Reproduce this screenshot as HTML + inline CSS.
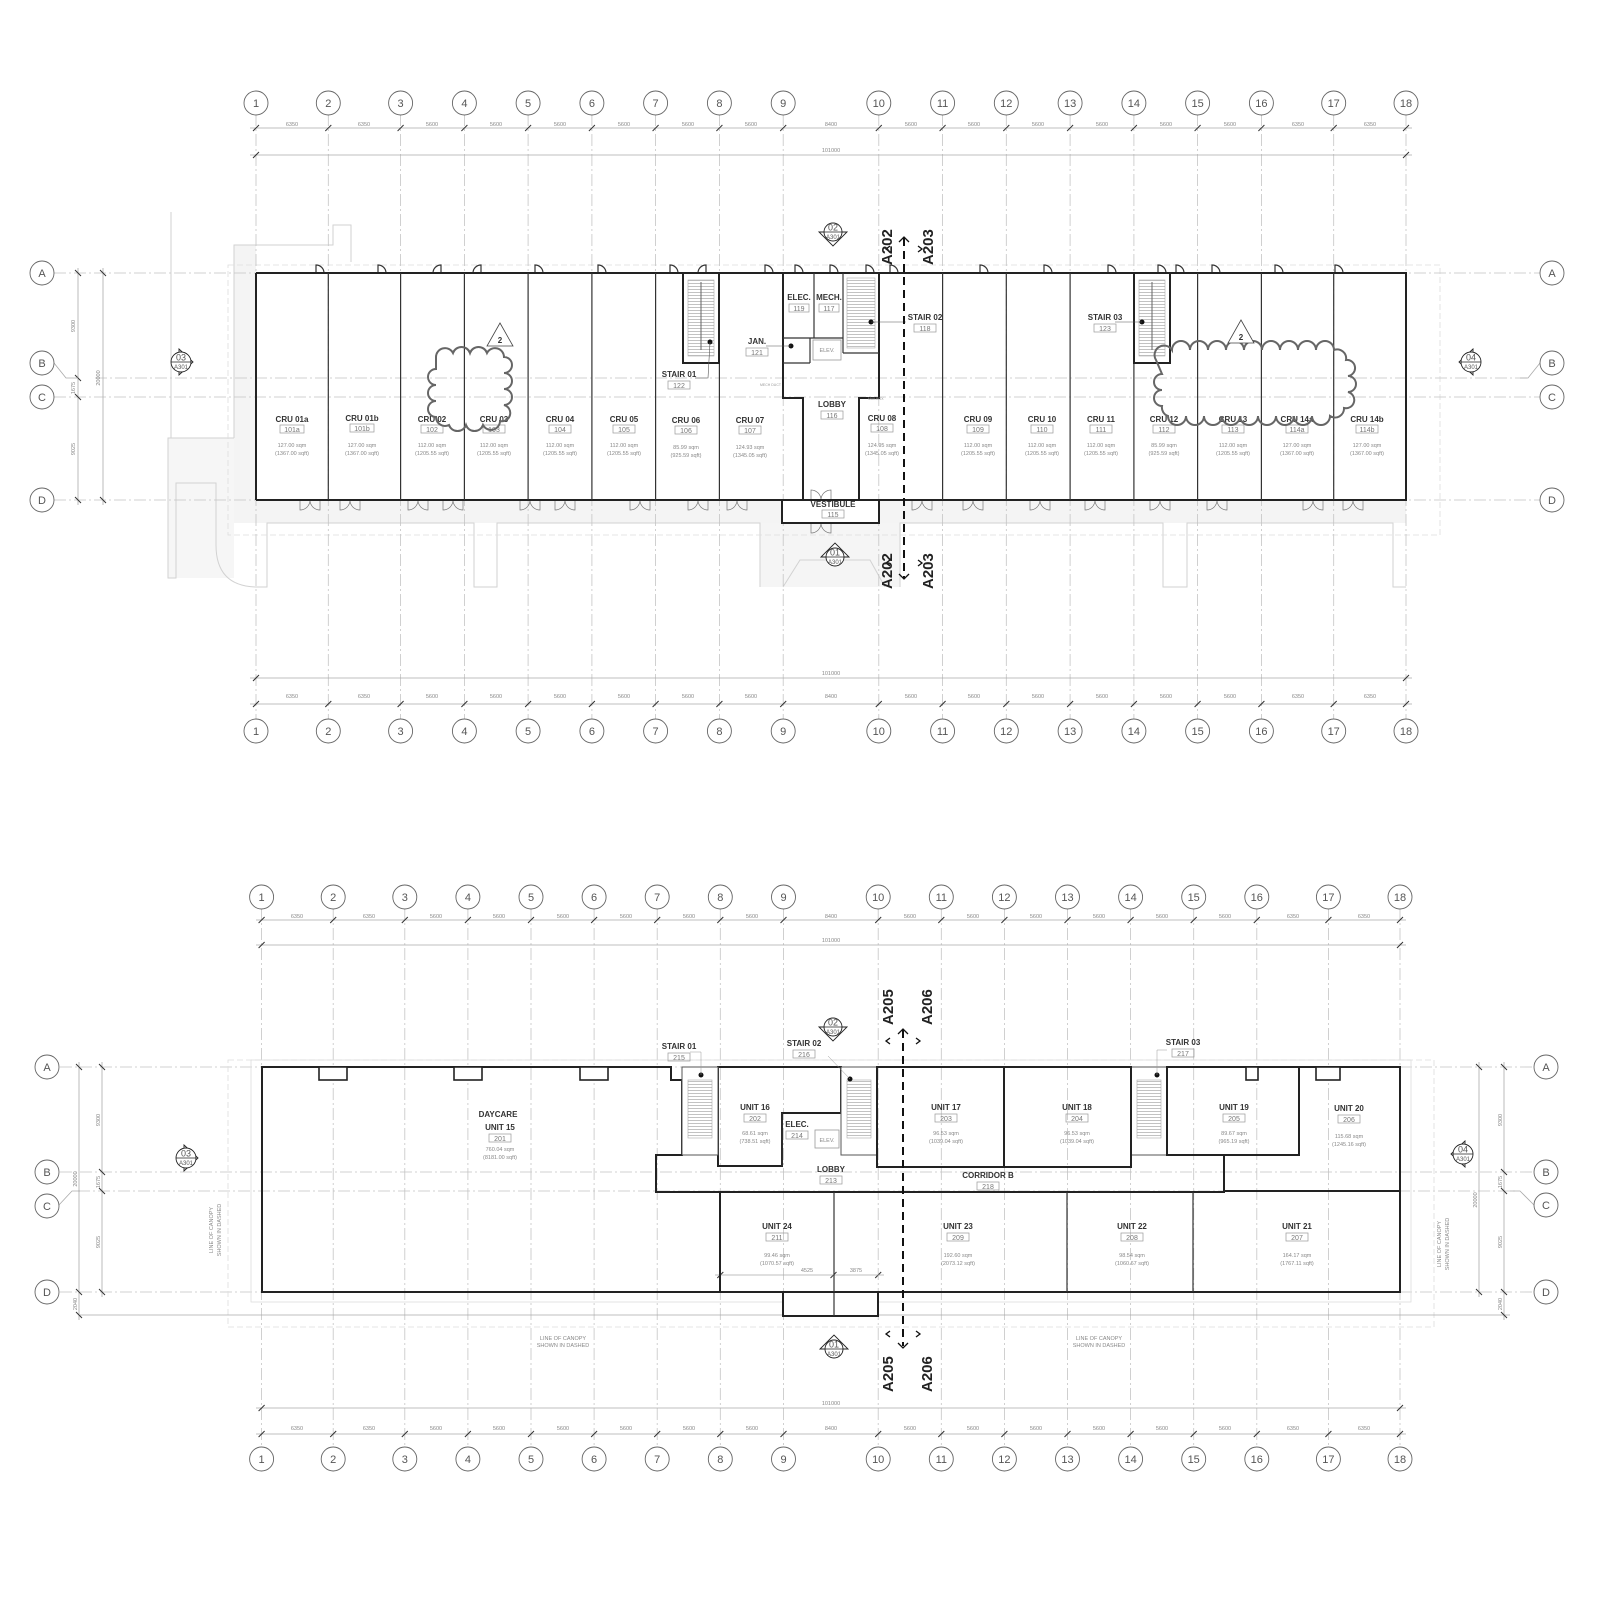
<!DOCTYPE html>
<html><head><meta charset="utf-8"><style>
html,body{margin:0;padding:0;background:#fff}
svg{display:block}
text{font-family:"Liberation Sans",sans-serif}
.g{stroke:#c4c4c4;stroke-width:0.8;stroke-dasharray:12 3 2 3;fill:none}
.bub{fill:#fff;stroke:#666;stroke-width:0.9}
.bt{font-size:11px;fill:#555;text-anchor:middle}
.dl{stroke:#aaa;stroke-width:0.8;fill:none}
.dt{font-size:5.5px;fill:#888;text-anchor:middle}
.tk{stroke:#333;stroke-width:1}
.w{stroke:#222;stroke-width:2;fill:none}
.wt{stroke:#333;stroke-width:1.2;fill:none}
.site{stroke:#d2d2d2;stroke-width:1;fill:none}
.rn{font-size:8px;font-weight:bold;fill:#333;text-anchor:middle}
.rb{font-size:7px;fill:#777;text-anchor:middle}
.ra{font-size:5.5px;fill:#888;text-anchor:middle}
.box{fill:none;stroke:#999;stroke-width:0.7}
.sec{font-size:15px;font-weight:bold;fill:#222}
.cl{fill:none;stroke:#666;stroke-width:2}
</style></head><body>
<svg width="1600" height="1600" viewBox="0 0 1600 1600" xmlns="http://www.w3.org/2000/svg">
<defs>
<pattern id="st" width="6" height="3" patternUnits="userSpaceOnUse"><rect width="6" height="3" fill="#fff"/><line x1="0" y1="1.5" x2="6" y2="1.5" stroke="#999" stroke-width="0.6"/></pattern>
</defs>

<!-- ================= TOP PLAN ================= -->
<!-- site / hatch -->
<g>
<rect x="256" y="500" width="527" height="23" fill="#f4f4f4"/>
<rect x="879" y="500" width="527" height="23" fill="#f4f4f4"/>
<path d="M234,245 L256,245 L256,523 L234,523 Z" fill="#f4f4f4"/>
<path d="M168,438 L234,438 L234,578 L168,578 Z" fill="#f6f6f6"/>
<path d="M760,523 L900,523 L900,587 L760,587 Z" fill="#f5f5f5"/>
<line x1="171" y1="212" x2="171" y2="438" class="site"/>
<polyline points="234,438 234,245 333,245 333,225 351,225 351,262" class="site"/>
<polyline points="234,438 168,438 168,578 176,578 176,483 216,483 216,545" class="site"/>
<path d="M216,545 Q216,587 258,587 L267,587 L267,523 L474,523 L474,587 L497,587 L497,523 L760,523 L760,587" class="site"/>
<path d="M900,587 L900,523 L1163,523 L1163,587 L1187,587 L1187,523 L1393,523 L1393,587 L1406,587" class="site"/>
<path d="M783,587 L800,560 L870,560 L885,587" class="site"/>
<rect x="228" y="265" width="1212" height="270" fill="none" stroke="#ddd" stroke-width="0.8" stroke-dasharray="6 3"/>
</g>

<!-- grid verticals -->
<g class="g">
<line x1="256" y1="114" x2="256" y2="720"/><line x1="328.3" y1="114" x2="328.3" y2="720"/><line x1="400.6" y1="114" x2="400.6" y2="720"/><line x1="464.4" y1="114" x2="464.4" y2="720"/><line x1="528.1" y1="114" x2="528.1" y2="720"/><line x1="591.9" y1="114" x2="591.9" y2="720"/><line x1="655.6" y1="114" x2="655.6" y2="720"/><line x1="719.4" y1="114" x2="719.4" y2="720"/><line x1="783.2" y1="114" x2="783.2" y2="720"/><line x1="878.8" y1="114" x2="878.8" y2="720"/><line x1="942.6" y1="114" x2="942.6" y2="720"/><line x1="1006.3" y1="114" x2="1006.3" y2="720"/><line x1="1070.1" y1="114" x2="1070.1" y2="720"/><line x1="1133.9" y1="114" x2="1133.9" y2="720"/><line x1="1197.6" y1="114" x2="1197.6" y2="720"/><line x1="1261.4" y1="114" x2="1261.4" y2="720"/><line x1="1333.7" y1="114" x2="1333.7" y2="720"/><line x1="1406" y1="114" x2="1406" y2="720"/>
<line x1="54" y1="273" x2="1540" y2="273"/><line x1="95" y1="378" x2="1530" y2="378"/><line x1="54" y1="397" x2="1540" y2="397"/><line x1="54" y1="500" x2="1540" y2="500"/>
</g>

<!-- dimensions top -->
<g>
<line x1="250" y1="128" x2="1412" y2="128" class="dl"/>
<line x1="250" y1="155" x2="1412" y2="155" class="dl"/>
<line x1="250" y1="678" x2="1412" y2="678" class="dl"/>
<line x1="250" y1="704" x2="1412" y2="704" class="dl"/>
<g class="tk">
<line x1="253" y1="131" x2="259" y2="125"/><line x1="325.3" y1="131" x2="331.3" y2="125"/><line x1="397.6" y1="131" x2="403.6" y2="125"/><line x1="461.4" y1="131" x2="467.4" y2="125"/><line x1="525.1" y1="131" x2="531.1" y2="125"/><line x1="588.9" y1="131" x2="594.9" y2="125"/><line x1="652.6" y1="131" x2="658.6" y2="125"/><line x1="716.4" y1="131" x2="722.4" y2="125"/><line x1="780.2" y1="131" x2="786.2" y2="125"/><line x1="875.8" y1="131" x2="881.8" y2="125"/><line x1="939.6" y1="131" x2="945.6" y2="125"/><line x1="1003.3" y1="131" x2="1009.3" y2="125"/><line x1="1067.1" y1="131" x2="1073.1" y2="125"/><line x1="1130.9" y1="131" x2="1136.9" y2="125"/><line x1="1194.6" y1="131" x2="1200.6" y2="125"/><line x1="1258.4" y1="131" x2="1264.4" y2="125"/><line x1="1330.7" y1="131" x2="1336.7" y2="125"/><line x1="1403" y1="131" x2="1409" y2="125"/>
<line x1="253" y1="158" x2="259" y2="152"/><line x1="1403" y1="158" x2="1409" y2="152"/>
<line x1="253" y1="681" x2="259" y2="675"/><line x1="1403" y1="681" x2="1409" y2="675"/>
<line x1="253" y1="707" x2="259" y2="701"/><line x1="325.3" y1="707" x2="331.3" y2="701"/><line x1="397.6" y1="707" x2="403.6" y2="701"/><line x1="461.4" y1="707" x2="467.4" y2="701"/><line x1="525.1" y1="707" x2="531.1" y2="701"/><line x1="588.9" y1="707" x2="594.9" y2="701"/><line x1="652.6" y1="707" x2="658.6" y2="701"/><line x1="716.4" y1="707" x2="722.4" y2="701"/><line x1="780.2" y1="707" x2="786.2" y2="701"/><line x1="875.8" y1="707" x2="881.8" y2="701"/><line x1="939.6" y1="707" x2="945.6" y2="701"/><line x1="1003.3" y1="707" x2="1009.3" y2="701"/><line x1="1067.1" y1="707" x2="1073.1" y2="701"/><line x1="1130.9" y1="707" x2="1136.9" y2="701"/><line x1="1194.6" y1="707" x2="1200.6" y2="701"/><line x1="1258.4" y1="707" x2="1264.4" y2="701"/><line x1="1330.7" y1="707" x2="1336.7" y2="701"/><line x1="1403" y1="707" x2="1409" y2="701"/>
</g>
<g class="dt">
<text x="292" y="126">6350</text><text x="364" y="126">6350</text><text x="432" y="126">5600</text><text x="496" y="126">5600</text><text x="560" y="126">5600</text><text x="624" y="126">5600</text><text x="688" y="126">5600</text><text x="751" y="126">5600</text><text x="831" y="126">8400</text><text x="911" y="126">5600</text><text x="974" y="126">5600</text><text x="1038" y="126">5600</text><text x="1102" y="126">5600</text><text x="1166" y="126">5600</text><text x="1230" y="126">5600</text><text x="1298" y="126">6350</text><text x="1370" y="126">6350</text>
<text x="831" y="152">101000</text><text x="831" y="675">101000</text>
<text x="292" y="698">6350</text><text x="364" y="698">6350</text><text x="432" y="698">5600</text><text x="496" y="698">5600</text><text x="560" y="698">5600</text><text x="624" y="698">5600</text><text x="688" y="698">5600</text><text x="751" y="698">5600</text><text x="831" y="698">8400</text><text x="911" y="698">5600</text><text x="974" y="698">5600</text><text x="1038" y="698">5600</text><text x="1102" y="698">5600</text><text x="1166" y="698">5600</text><text x="1230" y="698">5600</text><text x="1298" y="698">6350</text><text x="1370" y="698">6350</text>
</g>
<!-- left vertical dims -->
<line x1="78" y1="268" x2="78" y2="505" class="dl"/><line x1="103" y1="268" x2="103" y2="505" class="dl"/>
<g class="tk"><line x1="75" y1="270" x2="81" y2="276"/><line x1="75" y1="375" x2="81" y2="381"/><line x1="75" y1="394" x2="81" y2="400"/><line x1="75" y1="497" x2="81" y2="503"/><line x1="100" y1="270" x2="106" y2="276"/><line x1="100" y1="497" x2="106" y2="503"/></g>
<g class="dt"><text transform="translate(75,326) rotate(-90)">9300</text><text transform="translate(75,388) rotate(-90)">1675</text><text transform="translate(75,449) rotate(-90)">9025</text><text transform="translate(100,378) rotate(-90)">20000</text></g>
<polyline points="54,363 66,378 78,378" class="dl"/>
<polyline points="1540,363 1528,378 1520,378" class="dl"/>
</g>

<!-- bubbles top -->
<g>
<circle cx="256" cy="103" r="12" class="bub"/><circle cx="328.3" cy="103" r="12" class="bub"/><circle cx="400.6" cy="103" r="12" class="bub"/><circle cx="464.4" cy="103" r="12" class="bub"/><circle cx="528.1" cy="103" r="12" class="bub"/><circle cx="591.9" cy="103" r="12" class="bub"/><circle cx="655.6" cy="103" r="12" class="bub"/><circle cx="719.4" cy="103" r="12" class="bub"/><circle cx="783.2" cy="103" r="12" class="bub"/><circle cx="878.8" cy="103" r="12" class="bub"/><circle cx="942.6" cy="103" r="12" class="bub"/><circle cx="1006.3" cy="103" r="12" class="bub"/><circle cx="1070.1" cy="103" r="12" class="bub"/><circle cx="1133.9" cy="103" r="12" class="bub"/><circle cx="1197.6" cy="103" r="12" class="bub"/><circle cx="1261.4" cy="103" r="12" class="bub"/><circle cx="1333.7" cy="103" r="12" class="bub"/><circle cx="1406" cy="103" r="12" class="bub"/>
<circle cx="256" cy="731" r="12" class="bub"/><circle cx="328.3" cy="731" r="12" class="bub"/><circle cx="400.6" cy="731" r="12" class="bub"/><circle cx="464.4" cy="731" r="12" class="bub"/><circle cx="528.1" cy="731" r="12" class="bub"/><circle cx="591.9" cy="731" r="12" class="bub"/><circle cx="655.6" cy="731" r="12" class="bub"/><circle cx="719.4" cy="731" r="12" class="bub"/><circle cx="783.2" cy="731" r="12" class="bub"/><circle cx="878.8" cy="731" r="12" class="bub"/><circle cx="942.6" cy="731" r="12" class="bub"/><circle cx="1006.3" cy="731" r="12" class="bub"/><circle cx="1070.1" cy="731" r="12" class="bub"/><circle cx="1133.9" cy="731" r="12" class="bub"/><circle cx="1197.6" cy="731" r="12" class="bub"/><circle cx="1261.4" cy="731" r="12" class="bub"/><circle cx="1333.7" cy="731" r="12" class="bub"/><circle cx="1406" cy="731" r="12" class="bub"/>
<circle cx="42" cy="273" r="12" class="bub"/><circle cx="42" cy="363" r="12" class="bub"/><circle cx="42" cy="397" r="12" class="bub"/><circle cx="42" cy="500" r="12" class="bub"/>
<circle cx="1552" cy="273" r="12" class="bub"/><circle cx="1552" cy="363" r="12" class="bub"/><circle cx="1552" cy="397" r="12" class="bub"/><circle cx="1552" cy="500" r="12" class="bub"/>
</g>
<g class="bt">
<text x="256" y="107">1</text><text x="328.3" y="107">2</text><text x="400.6" y="107">3</text><text x="464.4" y="107">4</text><text x="528.1" y="107">5</text><text x="591.9" y="107">6</text><text x="655.6" y="107">7</text><text x="719.4" y="107">8</text><text x="783.2" y="107">9</text><text x="878.8" y="107">10</text><text x="942.6" y="107">11</text><text x="1006.3" y="107">12</text><text x="1070.1" y="107">13</text><text x="1133.9" y="107">14</text><text x="1197.6" y="107">15</text><text x="1261.4" y="107">16</text><text x="1333.7" y="107">17</text><text x="1406" y="107">18</text>
<text x="256" y="735">1</text><text x="328.3" y="735">2</text><text x="400.6" y="735">3</text><text x="464.4" y="735">4</text><text x="528.1" y="735">5</text><text x="591.9" y="735">6</text><text x="655.6" y="735">7</text><text x="719.4" y="735">8</text><text x="783.2" y="735">9</text><text x="878.8" y="735">10</text><text x="942.6" y="735">11</text><text x="1006.3" y="735">12</text><text x="1070.1" y="735">13</text><text x="1133.9" y="735">14</text><text x="1197.6" y="735">15</text><text x="1261.4" y="735">16</text><text x="1333.7" y="735">17</text><text x="1406" y="735">18</text>
<text x="42" y="277">A</text><text x="42" y="367">B</text><text x="42" y="401">C</text><text x="42" y="504">D</text>
<text x="1552" y="277">A</text><text x="1552" y="367">B</text><text x="1552" y="401">C</text><text x="1552" y="504">D</text>
</g>

<!-- building top -->
<g>
<!-- top doors -->
<g class="wt" stroke-width="0.8">
<path d="M316,273 v-8 a8,8 0 0,1 8,8"/><path d="M378,273 v-8 a8,8 0 0,1 8,8"/><path d="M441,273 v-8 a8,8 0 0,0 -8,8"/><path d="M481,273 v-8 a8,8 0 0,0 -8,8"/><path d="M535,273 v-8 a8,8 0 0,1 8,8"/><path d="M598,273 v-8 a8,8 0 0,1 8,8"/><path d="M670,273 v-8 a8,8 0 0,1 8,8"/><path d="M706,273 v-8 a8,8 0 0,0 -8,8"/><path d="M765,273 v-8 a8,8 0 0,1 8,8"/><path d="M795,273 v-8 a8,8 0 0,1 8,8"/><path d="M830,273 v-8 a8,8 0 0,1 8,8"/><path d="M866,273 v-8 a8,8 0 0,1 8,8"/><path d="M890,273 v-8 a8,8 0 0,1 8,8"/><path d="M980,273 v-8 a8,8 0 0,1 8,8"/><path d="M1044,273 v-8 a8,8 0 0,1 8,8"/><path d="M1108,273 v-8 a8,8 0 0,1 8,8"/><path d="M1158,273 v-8 a8,8 0 0,1 8,8"/><path d="M1176,273 v-8 a8,8 0 0,1 8,8"/><path d="M1212,273 v-8 a8,8 0 0,1 8,8"/><path d="M1275,273 v-8 a8,8 0 0,1 8,8"/><path d="M1335,273 v-8 a8,8 0 0,1 8,8"/>
</g>
<!-- bottom double doors -->
<g stroke="#777" stroke-width="0.7" fill="none">
<path d="M300,500 v10 a10,10 0 0,0 10,-10 M320,500 v10 a10,10 0 0,1 -10,-10"/><path d="M340,500 v10 a10,10 0 0,0 10,-10 M360,500 v10 a10,10 0 0,1 -10,-10"/><path d="M408,500 v10 a10,10 0 0,0 10,-10 M428,500 v10 a10,10 0 0,1 -10,-10"/><path d="M443,500 v10 a10,10 0 0,0 10,-10 M463,500 v10 a10,10 0 0,1 -10,-10"/><path d="M520,500 v10 a10,10 0 0,0 10,-10 M540,500 v10 a10,10 0 0,1 -10,-10"/><path d="M555,500 v10 a10,10 0 0,0 10,-10 M575,500 v10 a10,10 0 0,1 -10,-10"/><path d="M630,500 v10 a10,10 0 0,0 10,-10 M650,500 v10 a10,10 0 0,1 -10,-10"/><path d="M688,500 v10 a10,10 0 0,0 10,-10 M708,500 v10 a10,10 0 0,1 -10,-10"/><path d="M727,500 v10 a10,10 0 0,0 10,-10 M747,500 v10 a10,10 0 0,1 -10,-10"/><path d="M912,500 v10 a10,10 0 0,0 10,-10 M932,500 v10 a10,10 0 0,1 -10,-10"/><path d="M963,500 v10 a10,10 0 0,0 10,-10 M983,500 v10 a10,10 0 0,1 -10,-10"/><path d="M1030,500 v10 a10,10 0 0,0 10,-10 M1050,500 v10 a10,10 0 0,1 -10,-10"/><path d="M1085,500 v10 a10,10 0 0,0 10,-10 M1105,500 v10 a10,10 0 0,1 -10,-10"/><path d="M1150,500 v10 a10,10 0 0,0 10,-10 M1170,500 v10 a10,10 0 0,1 -10,-10"/><path d="M1207,500 v10 a10,10 0 0,0 10,-10 M1227,500 v10 a10,10 0 0,1 -10,-10"/><path d="M1303,500 v10 a10,10 0 0,0 10,-10 M1323,500 v10 a10,10 0 0,1 -10,-10"/><path d="M1343,500 v10 a10,10 0 0,0 10,-10 M1363,500 v10 a10,10 0 0,1 -10,-10"/>
<path d="M811,523 v10 a10,10 0 0,0 10,-10 M831,523 v10 a10,10 0 0,1 -10,-10"/><path d="M811,500 v-10 a10,10 0 0,1 10,10 M831,500 v-10 a10,10 0 0,0 -10,10"/>
</g>
<!-- outline -->
<path d="M256,273 H1406 V500 H879 M783,500 H256 Z" class="w"/>
<line x1="256" y1="273" x2="256" y2="500" class="w"/>
<g class="wt" stroke-width="1.4">
<line x1="328.3" y1="273" x2="328.3" y2="500"/><line x1="400.6" y1="273" x2="400.6" y2="500"/><line x1="464.4" y1="273" x2="464.4" y2="500"/><line x1="528.1" y1="273" x2="528.1" y2="500"/><line x1="591.9" y1="273" x2="591.9" y2="500"/><line x1="655.6" y1="273" x2="655.6" y2="500"/><line x1="719.4" y1="273" x2="719.4" y2="500"/>
<line x1="942.6" y1="273" x2="942.6" y2="500"/><line x1="1006.3" y1="273" x2="1006.3" y2="500"/><line x1="1070.1" y1="273" x2="1070.1" y2="500"/><line x1="1133.9" y1="273" x2="1133.9" y2="500"/><line x1="1197.6" y1="273" x2="1197.6" y2="500"/><line x1="1261.4" y1="273" x2="1261.4" y2="500"/><line x1="1333.7" y1="273" x2="1333.7" y2="500"/>
</g>
<!-- stairs 01 / 03 -->
<rect x="683" y="273" width="36" height="90" fill="#fff" stroke="#222" stroke-width="2"/>
<rect x="688" y="280" width="26" height="76" fill="url(#st)" stroke="#aaa" stroke-width="0.6"/>
<line x1="701" y1="282" x2="701" y2="350" stroke="#666"/>
<rect x="1134" y="273" width="36" height="90" fill="#fff" stroke="#222" stroke-width="2"/>
<rect x="1139" y="280" width="26" height="76" fill="url(#st)" stroke="#aaa" stroke-width="0.6"/>
<line x1="1152" y1="282" x2="1152" y2="350" stroke="#666"/>
<!-- core -->
<path d="M783,273 V398 H803 V500 M879,273 V398 H859 V500" class="w"/>
<rect x="782" y="500" width="97" height="23" fill="#fff" stroke="#222" stroke-width="2"/>
<g class="wt">
<line x1="814" y1="273" x2="814" y2="338"/><line x1="843" y1="273" x2="843" y2="353"/><line x1="783" y1="338" x2="843" y2="338"/>
<line x1="810" y1="338" x2="810" y2="363"/><line x1="783" y1="363" x2="810" y2="363"/><line x1="843" y1="353" x2="879" y2="353"/>
</g>
<rect x="847" y="278" width="28" height="70" fill="url(#st)" stroke="#aaa" stroke-width="0.6"/>
<rect x="813" y="340" width="28" height="20" fill="#fff" stroke="#999" stroke-width="0.8"/>
<text x="827" y="352" font-size="5.5" fill="#888" text-anchor="middle">ELEV.</text>
<circle cx="710" cy="342" r="2.5" fill="#111"/><polyline points="710,342 708,378 695,378" fill="none" stroke="#555" stroke-width="0.6"/>
<circle cx="791" cy="346" r="2.5" fill="#111"/><line x1="766" y1="346" x2="791" y2="346" stroke="#555" stroke-width="0.6"/>
<circle cx="871" cy="322" r="2.5" fill="#111"/><line x1="871" y1="322" x2="906" y2="322" stroke="#555" stroke-width="0.6"/>
<circle cx="1142" cy="322" r="2.5" fill="#111"/><line x1="1115" y1="322" x2="1142" y2="322" stroke="#555" stroke-width="0.6"/>
<text x="760" y="386" font-size="3.5" fill="#999">MECH DUCT</text>
<text x="868" y="400" font-size="3.5" fill="#999">MAILBOX</text>
</g>

<!-- room labels top -->
<g>
<text class="rn" x="292" y="422">CRU 01a</text><rect class="box" x="280" y="425" width="24" height="8"/><text class="rb" x="292" y="432">101a</text><text class="ra" x="292" y="447">127.00 sqm</text><text class="ra" x="292" y="455">(1367.00 sqft)</text>
<text class="rn" x="362" y="421">CRU 01b</text><rect class="box" x="350" y="424" width="24" height="8"/><text class="rb" x="362" y="431">101b</text><text class="ra" x="362" y="447">127.00 sqm</text><text class="ra" x="362" y="455">(1367.00 sqft)</text>
<text class="rn" x="432" y="422">CRU 02</text><rect class="box" x="421" y="425" width="22" height="8"/><text class="rb" x="432" y="432">102</text><text class="ra" x="432" y="447">112.00 sqm</text><text class="ra" x="432" y="455">(1205.55 sqft)</text>
<text class="rn" x="494" y="422">CRU 03</text><rect class="box" x="483" y="425" width="22" height="8"/><text class="rb" x="494" y="432">103</text><text class="ra" x="494" y="447">112.00 sqm</text><text class="ra" x="494" y="455">(1205.55 sqft)</text>
<text class="rn" x="560" y="422">CRU 04</text><rect class="box" x="549" y="425" width="22" height="8"/><text class="rb" x="560" y="432">104</text><text class="ra" x="560" y="447">112.00 sqm</text><text class="ra" x="560" y="455">(1205.55 sqft)</text>
<text class="rn" x="624" y="422">CRU 05</text><rect class="box" x="613" y="425" width="22" height="8"/><text class="rb" x="624" y="432">105</text><text class="ra" x="624" y="447">112.00 sqm</text><text class="ra" x="624" y="455">(1205.55 sqft)</text>
<text class="rn" x="686" y="423">CRU 06</text><rect class="box" x="675" y="426" width="22" height="8"/><text class="rb" x="686" y="433">106</text><text class="ra" x="686" y="449">85.99 sqm</text><text class="ra" x="686" y="457">(925.59 sqft)</text>
<text class="rn" x="750" y="423">CRU 07</text><rect class="box" x="739" y="426" width="22" height="8"/><text class="rb" x="750" y="433">107</text><text class="ra" x="750" y="449">124.93 sqm</text><text class="ra" x="750" y="457">(1345.05 sqft)</text>
<text class="rn" x="882" y="421">CRU 08</text><rect class="box" x="871" y="424" width="22" height="8"/><text class="rb" x="882" y="431">108</text><text class="ra" x="882" y="447">124.95 sqm</text><text class="ra" x="882" y="455">(1345.05 sqft)</text>
<text class="rn" x="978" y="422">CRU 09</text><rect class="box" x="967" y="425" width="22" height="8"/><text class="rb" x="978" y="432">109</text><text class="ra" x="978" y="447">112.00 sqm</text><text class="ra" x="978" y="455">(1205.55 sqft)</text>
<text class="rn" x="1042" y="422">CRU 10</text><rect class="box" x="1031" y="425" width="22" height="8"/><text class="rb" x="1042" y="432">110</text><text class="ra" x="1042" y="447">112.00 sqm</text><text class="ra" x="1042" y="455">(1205.55 sqft)</text>
<text class="rn" x="1101" y="422">CRU 11</text><rect class="box" x="1090" y="425" width="22" height="8"/><text class="rb" x="1101" y="432">111</text><text class="ra" x="1101" y="447">112.00 sqm</text><text class="ra" x="1101" y="455">(1205.55 sqft)</text>
<text class="rn" x="1164" y="422">CRU 12</text><rect class="box" x="1153" y="425" width="22" height="8"/><text class="rb" x="1164" y="432">112</text><text class="ra" x="1164" y="447">85.99 sqm</text><text class="ra" x="1164" y="455">(925.59 sqft)</text>
<text class="rn" x="1233" y="422">CRU 13</text><rect class="box" x="1222" y="425" width="22" height="8"/><text class="rb" x="1233" y="432">113</text><text class="ra" x="1233" y="447">112.00 sqm</text><text class="ra" x="1233" y="455">(1205.55 sqft)</text>
<text class="rn" x="1297" y="422">CRU 14a</text><rect class="box" x="1286" y="425" width="22" height="8"/><text class="rb" x="1297" y="432">114a</text><text class="ra" x="1297" y="447">127.00 sqm</text><text class="ra" x="1297" y="455">(1367.00 sqft)</text>
<text class="rn" x="1367" y="422">CRU 14b</text><rect class="box" x="1356" y="425" width="22" height="8"/><text class="rb" x="1367" y="432">114b</text><text class="ra" x="1367" y="447">127.00 sqm</text><text class="ra" x="1367" y="455">(1367.00 sqft)</text>
<text class="rn" x="679" y="377">STAIR 01</text><rect class="box" x="668" y="381" width="22" height="8"/><text class="rb" x="679" y="388">122</text>
<text class="rn" x="757" y="344">JAN.</text><rect class="box" x="746" y="348" width="22" height="8"/><text class="rb" x="757" y="355">121</text>
<text class="rn" x="799" y="300">ELEC.</text><rect class="box" x="789" y="304" width="20" height="8"/><text class="rb" x="799" y="311">119</text>
<text class="rn" x="829" y="300">MECH.</text><rect class="box" x="819" y="304" width="20" height="8"/><text class="rb" x="829" y="311">117</text>
<text class="rn" x="925" y="320">STAIR 02</text><rect class="box" x="914" y="324" width="22" height="8"/><text class="rb" x="925" y="331">118</text>
<text class="rn" x="1105" y="320">STAIR 03</text><rect class="box" x="1094" y="324" width="22" height="8"/><text class="rb" x="1105" y="331">123</text>
<text class="rn" x="832" y="407">LOBBY</text><rect class="box" x="821" y="411" width="22" height="8"/><text class="rb" x="832" y="418">116</text>
<text class="rn" x="833" y="507">VESTIBULE</text><rect class="box" x="822" y="510" width="22" height="8"/><text class="rb" x="833" y="517">115</text>
</g>

<!-- clouds top -->
<path class="cl" d="M436,357 a9,9 0 0,1 17,-4 a9,9 0 0,1 17,0 a9,9 0 0,1 17,0 a9,9 0 0,1 17,4 a8,8 0 0,1 0,16 a8,8 0 0,1 0,16 a8,8 0 0,1 0,16 a8,8 0 0,1 -4,16 a9,9 0 0,1 -17,4 a9,9 0 0,1 -17,0 a9,9 0 0,1 -17,0 a9,9 0 0,1 -13,-8 a8,8 0 0,1 0,-16 a8,8 0 0,1 0,-16 a8,8 0 0,1 0,-16 Z"/>
<path class="cl" d="M1156,360 a9,9 0 0,1 16,-10 a9,9 0 0,1 18,0 a9,9 0 0,1 18,0 a9,9 0 0,1 18,0 a9,9 0 0,1 18,0 a9,9 0 0,1 18,0 a9,9 0 0,1 18,0 a9,9 0 0,1 18,0 a9,9 0 0,1 18,0 a9,9 0 0,1 18,0 a9,9 0 0,1 12,10 a8,8 0 0,1 2,16 a8,8 0 0,1 0,16 a8,8 0 0,1 -4,16 a9,9 0 0,1 -14,8 a9,9 0 0,1 -18,0 a9,9 0 0,1 -18,0 a9,9 0 0,1 -18,0 a9,9 0 0,1 -18,0 a9,9 0 0,1 -18,0 a9,9 0 0,1 -18,0 a9,9 0 0,1 -18,0 a9,9 0 0,1 -18,0 a9,9 0 0,1 -18,0 a9,9 0 0,1 -6,-10 a8,8 0 0,1 0,-16 a8,8 0 0,1 0,-16 Z"/>
<polygon points="500,323 487,346 513,346" fill="#fff" stroke="#444" stroke-width="0.8"/><text x="500" y="343" font-size="8" font-weight="bold" text-anchor="middle" fill="#333">2</text>
<polygon points="1241,320 1228,343 1254,343" fill="#fff" stroke="#444" stroke-width="0.8"/><text x="1241" y="340" font-size="8" font-weight="bold" text-anchor="middle" fill="#333">2</text>

<!-- section markers top -->
<g font-size="8" text-anchor="middle" fill="#555">
<g transform="translate(181,362)"><polygon points="-2,-13 12,0 -2,13" fill="#fff" stroke="#222" stroke-width="0.9"/><circle r="10" fill="#fff" stroke="#222" stroke-width="0.9"/><line x1="-10" y1="0" x2="10" y2="0" stroke="#222" stroke-width="0.7"/><text y="-1.5" font-size="9">03</text><text y="7" font-size="6">A301</text></g>
<g transform="translate(1471,362)"><polygon points="2,-13 -12,0 2,13" fill="#fff" stroke="#222" stroke-width="0.9"/><circle r="10" fill="#fff" stroke="#222" stroke-width="0.9"/><line x1="-10" y1="0" x2="10" y2="0" stroke="#222" stroke-width="0.7"/><text y="-1.5" font-size="9">04</text><text y="7" font-size="6">A301</text></g>
<g transform="translate(833,232)"><polygon points="-14,0 14,0 0,14" fill="#fff" stroke="#222" stroke-width="0.9"/><circle r="9" fill="#fff" stroke="#222" stroke-width="0.9"/><line x1="-14" y1="0" x2="14" y2="0" stroke="#222" stroke-width="0.7"/><text y="-1.5" font-size="9">02</text><text y="7" font-size="6">A301</text></g>
<g transform="translate(835,557)"><polygon points="-14,0 14,0 0,-14" fill="#fff" stroke="#222" stroke-width="0.9"/><circle r="9" fill="#fff" stroke="#222" stroke-width="0.9"/><line x1="-14" y1="0" x2="14" y2="0" stroke="#222" stroke-width="0.7"/><text y="-1.5" font-size="9">01</text><text y="7" font-size="6">A301</text></g>
</g>
<!-- section cut top -->
<line x1="904" y1="238" x2="904" y2="578" stroke="#111" stroke-width="2" stroke-dasharray="8 5"/>
<path d="M899,242 l5,-5 l5,5 M899,574 l5,5 l5,-5 M890,252 l-4,-3 l4,-3 M918,252 l4,-3 l-4,-3 M890,566 l-4,-3 l4,-3 M918,566 l4,-3 l-4,-3" fill="none" stroke="#111" stroke-width="1.3"/>
<text class="sec" transform="translate(892,265) rotate(-90)">A202</text>
<text class="sec" transform="translate(933,265) rotate(-90)">A203</text>
<text class="sec" transform="translate(892,589) rotate(-90)">A202</text>
<text class="sec" transform="translate(933,589) rotate(-90)">A203</text>

<!-- ================= BOTTOM PLAN ================= -->
<g class="g">
<line x1="261.6" y1="908" x2="261.6" y2="1447"/><line x1="333.2" y1="908" x2="333.2" y2="1447"/><line x1="404.8" y1="908" x2="404.8" y2="1447"/><line x1="467.9" y1="908" x2="467.9" y2="1447"/><line x1="531" y1="908" x2="531" y2="1447"/><line x1="594.1" y1="908" x2="594.1" y2="1447"/><line x1="657.2" y1="908" x2="657.2" y2="1447"/><line x1="720.3" y1="908" x2="720.3" y2="1447"/><line x1="783.5" y1="908" x2="783.5" y2="1447"/><line x1="878.2" y1="908" x2="878.2" y2="1447"/><line x1="941.3" y1="908" x2="941.3" y2="1447"/><line x1="1004.4" y1="908" x2="1004.4" y2="1447"/><line x1="1067.5" y1="908" x2="1067.5" y2="1447"/><line x1="1130.6" y1="908" x2="1130.6" y2="1447"/><line x1="1193.7" y1="908" x2="1193.7" y2="1447"/><line x1="1256.8" y1="908" x2="1256.8" y2="1447"/><line x1="1328.4" y1="908" x2="1328.4" y2="1447"/><line x1="1400" y1="908" x2="1400" y2="1447"/>
<line x1="60" y1="1067" x2="1534" y2="1067"/><line x1="60" y1="1172" x2="1534" y2="1172"/><line x1="78" y1="1191" x2="1515" y2="1191"/><line x1="60" y1="1292" x2="1534" y2="1292"/>
</g>
<rect x="228" y="1060" width="1206" height="267" fill="none" stroke="#ddd" stroke-width="0.8" stroke-dasharray="6 3"/>
<line x1="80" y1="1315" x2="1510" y2="1315" class="dl" stroke="#ddd"/>
<rect x="251" y="1060" width="1160" height="242" fill="none" stroke="#ddd" stroke-width="0.8"/>

<!-- dims bottom plan -->
<g>
<line x1="256" y1="920" x2="1406" y2="920" class="dl"/><line x1="256" y1="945" x2="1406" y2="945" class="dl"/>
<line x1="256" y1="1408" x2="1406" y2="1408" class="dl"/><line x1="256" y1="1434" x2="1406" y2="1434" class="dl"/>
<g class="tk">
<line x1="258.6" y1="923" x2="264.6" y2="917"/><line x1="330.2" y1="923" x2="336.2" y2="917"/><line x1="401.8" y1="923" x2="407.8" y2="917"/><line x1="464.9" y1="923" x2="470.9" y2="917"/><line x1="528" y1="923" x2="534" y2="917"/><line x1="591.1" y1="923" x2="597.1" y2="917"/><line x1="654.2" y1="923" x2="660.2" y2="917"/><line x1="717.3" y1="923" x2="723.3" y2="917"/><line x1="780.5" y1="923" x2="786.5" y2="917"/><line x1="875.2" y1="923" x2="881.2" y2="917"/><line x1="938.3" y1="923" x2="944.3" y2="917"/><line x1="1001.4" y1="923" x2="1007.4" y2="917"/><line x1="1064.5" y1="923" x2="1070.5" y2="917"/><line x1="1127.6" y1="923" x2="1133.6" y2="917"/><line x1="1190.7" y1="923" x2="1196.7" y2="917"/><line x1="1253.8" y1="923" x2="1259.8" y2="917"/><line x1="1325.4" y1="923" x2="1331.4" y2="917"/><line x1="1397" y1="923" x2="1403" y2="917"/>
<line x1="258.6" y1="948" x2="264.6" y2="942"/><line x1="1397" y1="948" x2="1403" y2="942"/>
<line x1="258.6" y1="1411" x2="264.6" y2="1405"/><line x1="1397" y1="1411" x2="1403" y2="1405"/>
<line x1="258.6" y1="1437" x2="264.6" y2="1431"/><line x1="330.2" y1="1437" x2="336.2" y2="1431"/><line x1="401.8" y1="1437" x2="407.8" y2="1431"/><line x1="464.9" y1="1437" x2="470.9" y2="1431"/><line x1="528" y1="1437" x2="534" y2="1431"/><line x1="591.1" y1="1437" x2="597.1" y2="1431"/><line x1="654.2" y1="1437" x2="660.2" y2="1431"/><line x1="717.3" y1="1437" x2="723.3" y2="1431"/><line x1="780.5" y1="1437" x2="786.5" y2="1431"/><line x1="875.2" y1="1437" x2="881.2" y2="1431"/><line x1="938.3" y1="1437" x2="944.3" y2="1431"/><line x1="1001.4" y1="1437" x2="1007.4" y2="1431"/><line x1="1064.5" y1="1437" x2="1070.5" y2="1431"/><line x1="1127.6" y1="1437" x2="1133.6" y2="1431"/><line x1="1190.7" y1="1437" x2="1196.7" y2="1431"/><line x1="1253.8" y1="1437" x2="1259.8" y2="1431"/><line x1="1325.4" y1="1437" x2="1331.4" y2="1431"/><line x1="1397" y1="1437" x2="1403" y2="1431"/>
<line x1="717.3" y1="1278" x2="723.3" y2="1272"/><line x1="830.5" y1="1278" x2="836.5" y2="1272"/><line x1="875.2" y1="1278" x2="881.2" y2="1272"/>
</g>
<line x1="715" y1="1275" x2="884" y2="1275" class="dl"/>
<g class="dt">
<text x="297" y="918">6350</text><text x="369" y="918">6350</text><text x="436" y="918">5600</text><text x="499" y="918">5600</text><text x="563" y="918">5600</text><text x="626" y="918">5600</text><text x="689" y="918">5600</text><text x="752" y="918">5600</text><text x="831" y="918">8400</text><text x="910" y="918">5600</text><text x="973" y="918">5600</text><text x="1036" y="918">5600</text><text x="1099" y="918">5600</text><text x="1162" y="918">5600</text><text x="1225" y="918">5600</text><text x="1293" y="918">6350</text><text x="1364" y="918">6350</text>
<text x="831" y="942">101000</text><text x="831" y="1405">101000</text>
<text x="297" y="1430">6350</text><text x="369" y="1430">6350</text><text x="436" y="1430">5600</text><text x="499" y="1430">5600</text><text x="563" y="1430">5600</text><text x="626" y="1430">5600</text><text x="689" y="1430">5600</text><text x="752" y="1430">5600</text><text x="831" y="1430">8400</text><text x="910" y="1430">5600</text><text x="973" y="1430">5600</text><text x="1036" y="1430">5600</text><text x="1099" y="1430">5600</text><text x="1162" y="1430">5600</text><text x="1225" y="1430">5600</text><text x="1293" y="1430">6350</text><text x="1364" y="1430">6350</text>
<text x="807" y="1272">4525</text><text x="856" y="1272">3875</text>
</g>
<line x1="79" y1="1062" x2="79" y2="1320" class="dl"/><line x1="102" y1="1062" x2="102" y2="1297" class="dl"/>
<line x1="1479" y1="1062" x2="1479" y2="1297" class="dl"/><line x1="1504" y1="1062" x2="1504" y2="1320" class="dl"/>
<g class="tk"><line x1="76" y1="1064" x2="82" y2="1070"/><line x1="76" y1="1289" x2="82" y2="1295"/><line x1="76" y1="1312" x2="82" y2="1318"/><line x1="99" y1="1064" x2="105" y2="1070"/><line x1="99" y1="1169" x2="105" y2="1175"/><line x1="99" y1="1188" x2="105" y2="1194"/><line x1="99" y1="1289" x2="105" y2="1295"/>
<line x1="1476" y1="1064" x2="1482" y2="1070"/><line x1="1476" y1="1289" x2="1482" y2="1295"/><line x1="1501" y1="1064" x2="1507" y2="1070"/><line x1="1501" y1="1169" x2="1507" y2="1175"/><line x1="1501" y1="1188" x2="1507" y2="1194"/><line x1="1501" y1="1289" x2="1507" y2="1295"/><line x1="1501" y1="1312" x2="1507" y2="1318"/></g>
<g class="dt"><text transform="translate(100,1120) rotate(-90)">9300</text><text transform="translate(100,1182) rotate(-90)">1675</text><text transform="translate(100,1242) rotate(-90)">9025</text><text transform="translate(77,1179) rotate(-90)">20000</text><text transform="translate(77,1304) rotate(-90)">2040</text>
<text transform="translate(1502,1120) rotate(-90)">9300</text><text transform="translate(1502,1182) rotate(-90)">1675</text><text transform="translate(1502,1242) rotate(-90)">9025</text><text transform="translate(1477,1200) rotate(-90)">20000</text><text transform="translate(1502,1304) rotate(-90)">2040</text></g>
<polyline points="58,1206 72,1191 80,1191" class="dl"/>
<polyline points="1534,1205 1520,1191 1510,1191" class="dl"/>
<g class="dt" font-size="5.5"><text transform="translate(213,1230) rotate(-90)">LINE OF CANOPY</text><text transform="translate(221,1230) rotate(-90)">SHOWN IN DASHED</text>
<text transform="translate(1441,1244) rotate(-90)">LINE OF CANOPY</text><text transform="translate(1449,1244) rotate(-90)">SHOWN IN DASHED</text>
<text x="563" y="1340">LINE OF CANOPY</text><text x="563" y="1347">SHOWN IN DASHED</text>
<text x="1099" y="1340">LINE OF CANOPY</text><text x="1099" y="1347">SHOWN IN DASHED</text></g>
</g>

<!-- bubbles bottom plan -->
<g>
<circle cx="261.6" cy="897" r="12" class="bub"/><circle cx="333.2" cy="897" r="12" class="bub"/><circle cx="404.8" cy="897" r="12" class="bub"/><circle cx="467.9" cy="897" r="12" class="bub"/><circle cx="531" cy="897" r="12" class="bub"/><circle cx="594.1" cy="897" r="12" class="bub"/><circle cx="657.2" cy="897" r="12" class="bub"/><circle cx="720.3" cy="897" r="12" class="bub"/><circle cx="783.5" cy="897" r="12" class="bub"/><circle cx="878.2" cy="897" r="12" class="bub"/><circle cx="941.3" cy="897" r="12" class="bub"/><circle cx="1004.4" cy="897" r="12" class="bub"/><circle cx="1067.5" cy="897" r="12" class="bub"/><circle cx="1130.6" cy="897" r="12" class="bub"/><circle cx="1193.7" cy="897" r="12" class="bub"/><circle cx="1256.8" cy="897" r="12" class="bub"/><circle cx="1328.4" cy="897" r="12" class="bub"/><circle cx="1400" cy="897" r="12" class="bub"/>
<circle cx="261.6" cy="1459" r="12" class="bub"/><circle cx="333.2" cy="1459" r="12" class="bub"/><circle cx="404.8" cy="1459" r="12" class="bub"/><circle cx="467.9" cy="1459" r="12" class="bub"/><circle cx="531" cy="1459" r="12" class="bub"/><circle cx="594.1" cy="1459" r="12" class="bub"/><circle cx="657.2" cy="1459" r="12" class="bub"/><circle cx="720.3" cy="1459" r="12" class="bub"/><circle cx="783.5" cy="1459" r="12" class="bub"/><circle cx="878.2" cy="1459" r="12" class="bub"/><circle cx="941.3" cy="1459" r="12" class="bub"/><circle cx="1004.4" cy="1459" r="12" class="bub"/><circle cx="1067.5" cy="1459" r="12" class="bub"/><circle cx="1130.6" cy="1459" r="12" class="bub"/><circle cx="1193.7" cy="1459" r="12" class="bub"/><circle cx="1256.8" cy="1459" r="12" class="bub"/><circle cx="1328.4" cy="1459" r="12" class="bub"/><circle cx="1400" cy="1459" r="12" class="bub"/>
<circle cx="47" cy="1067" r="12" class="bub"/><circle cx="47" cy="1172" r="12" class="bub"/><circle cx="47" cy="1206" r="12" class="bub"/><circle cx="47" cy="1292" r="12" class="bub"/>
<circle cx="1546" cy="1067" r="12" class="bub"/><circle cx="1546" cy="1172" r="12" class="bub"/><circle cx="1546" cy="1205" r="12" class="bub"/><circle cx="1546" cy="1292" r="12" class="bub"/>
</g>
<g class="bt">
<text x="261.6" y="901">1</text><text x="333.2" y="901">2</text><text x="404.8" y="901">3</text><text x="467.9" y="901">4</text><text x="531" y="901">5</text><text x="594.1" y="901">6</text><text x="657.2" y="901">7</text><text x="720.3" y="901">8</text><text x="783.5" y="901">9</text><text x="878.2" y="901">10</text><text x="941.3" y="901">11</text><text x="1004.4" y="901">12</text><text x="1067.5" y="901">13</text><text x="1130.6" y="901">14</text><text x="1193.7" y="901">15</text><text x="1256.8" y="901">16</text><text x="1328.4" y="901">17</text><text x="1400" y="901">18</text>
<text x="261.6" y="1463">1</text><text x="333.2" y="1463">2</text><text x="404.8" y="1463">3</text><text x="467.9" y="1463">4</text><text x="531" y="1463">5</text><text x="594.1" y="1463">6</text><text x="657.2" y="1463">7</text><text x="720.3" y="1463">8</text><text x="783.5" y="1463">9</text><text x="878.2" y="1463">10</text><text x="941.3" y="1463">11</text><text x="1004.4" y="1463">12</text><text x="1067.5" y="1463">13</text><text x="1130.6" y="1463">14</text><text x="1193.7" y="1463">15</text><text x="1256.8" y="1463">16</text><text x="1328.4" y="1463">17</text><text x="1400" y="1463">18</text>
<text x="47" y="1071">A</text><text x="47" y="1176">B</text><text x="47" y="1210">C</text><text x="47" y="1296">D</text>
<text x="1546" y="1071">A</text><text x="1546" y="1176">B</text><text x="1546" y="1209">C</text><text x="1546" y="1296">D</text>
</g>

<!-- building bottom plan -->
<g>
<rect x="783" y="1292" width="95" height="24" fill="#fff" stroke="#222" stroke-width="2"/>
<line x1="834" y1="1292" x2="834" y2="1316" class="wt"/>
<!-- daycare outline -->
<path d="M262,1067 H671 V1080 H682 V1155 H656 V1192 H720 V1292 H262 Z" class="w"/>
<!-- upper units -->
<path d="M718,1067 H841 V1113 H782 V1166 H718 Z" class="w"/>
<path d="M782,1113 V1166" class="wt"/>
<rect x="682" y="1067" width="36" height="88" fill="#fff" stroke="#555" stroke-width="1"/>
<rect x="688" y="1080" width="24" height="58" fill="url(#st)" stroke="#aaa" stroke-width="0.6"/>
<rect x="841" y="1067" width="36" height="88" fill="#fff" stroke="#555" stroke-width="1"/>
<rect x="847" y="1080" width="24" height="58" fill="url(#st)" stroke="#aaa" stroke-width="0.6"/>
<rect x="1131" y="1067" width="36" height="88" fill="#fff" stroke="#555" stroke-width="1"/>
<rect x="1137" y="1080" width="24" height="58" fill="url(#st)" stroke="#aaa" stroke-width="0.6"/>
<path d="M877,1067 H1004 V1167 H877 Z" class="w"/>
<path d="M1004,1067 H1131 V1167 H1004 Z" class="w"/>
<path d="M1167,1067 H1299 V1155 H1167 Z" class="w"/>
<path d="M1299,1067 H1400 V1191 H1224 V1155" class="w"/>
<!-- corridor -->
<path d="M720,1192 H1224 V1155 H1167 M656,1155 H682" class="w"/>
<!-- lower units -->
<path d="M720,1192 V1292 H1400 V1191" class="w"/>
<line x1="834" y1="1192" x2="834" y2="1292" class="wt"/>
<line x1="1067" y1="1192" x2="1067" y2="1292" class="wt"/>
<line x1="1193" y1="1192" x2="1193" y2="1292" class="wt"/>
<!-- notches on top wall -->
<g stroke="#222" stroke-width="1.6" fill="#fff">
<rect x="319" y="1067" width="28" height="13"/><rect x="454" y="1067" width="28" height="13"/><rect x="580" y="1067" width="28" height="13"/>
<rect x="1246" y="1067" width="12" height="13"/><rect x="1316" y="1067" width="24" height="13"/>
</g>
<rect x="815" y="1130" width="24" height="18" fill="#fff" stroke="#999" stroke-width="0.8"/>
<text x="827" y="1142" font-size="5.5" fill="#888" text-anchor="middle">ELEV.</text>
<circle cx="701" cy="1075" r="2.5" fill="#111"/><circle cx="850" cy="1079" r="2.5" fill="#111"/><circle cx="1157" cy="1075" r="2.5" fill="#111"/>
<polyline points="701,1075 701,1052 690,1052" fill="none" stroke="#999" stroke-width="0.5"/>
<polyline points="850,1079 828,1056" fill="none" stroke="#999" stroke-width="0.5"/>
<polyline points="1157,1075 1157,1050 1167,1050" fill="none" stroke="#999" stroke-width="0.5"/>
</g>

<!-- labels bottom plan -->
<g>
<text class="rn" x="498" y="1117" font-size="10">DAYCARE</text>
<text class="rn" x="500" y="1130">UNIT 15</text><rect class="box" x="489" y="1134" width="22" height="8"/><text class="rb" x="500" y="1141">201</text><text class="ra" x="500" y="1151">760.04 sqm</text><text class="ra" x="500" y="1159">(8181.00 sqft)</text>
<text class="rn" x="755" y="1110">UNIT 16</text><rect class="box" x="744" y="1114" width="22" height="8"/><text class="rb" x="755" y="1121">202</text><text class="ra" x="755" y="1135">68.61 sqm</text><text class="ra" x="755" y="1143">(738.51 sqft)</text>
<text class="rn" x="797" y="1127">ELEC.</text><rect class="box" x="786" y="1131" width="22" height="8"/><text class="rb" x="797" y="1138">214</text>
<text class="rn" x="946" y="1110">UNIT 17</text><rect class="box" x="935" y="1114" width="22" height="8"/><text class="rb" x="946" y="1121">203</text><text class="ra" x="946" y="1135">96.53 sqm</text><text class="ra" x="946" y="1143">(1039.04 sqft)</text>
<text class="rn" x="1077" y="1110">UNIT 18</text><rect class="box" x="1066" y="1114" width="22" height="8"/><text class="rb" x="1077" y="1121">204</text><text class="ra" x="1077" y="1135">96.53 sqm</text><text class="ra" x="1077" y="1143">(1039.04 sqft)</text>
<text class="rn" x="1234" y="1110">UNIT 19</text><rect class="box" x="1223" y="1114" width="22" height="8"/><text class="rb" x="1234" y="1121">205</text><text class="ra" x="1234" y="1135">89.67 sqm</text><text class="ra" x="1234" y="1143">(965.19 sqft)</text>
<text class="rn" x="1349" y="1111">UNIT 20</text><rect class="box" x="1338" y="1115" width="22" height="8"/><text class="rb" x="1349" y="1122">206</text><text class="ra" x="1349" y="1138">115.68 sqm</text><text class="ra" x="1349" y="1146">(1245.16 sqft)</text>
<text class="rn" x="831" y="1172">LOBBY</text><rect class="box" x="820" y="1176" width="22" height="8"/><text class="rb" x="831" y="1183">213</text>
<text class="rn" x="988" y="1178">CORRIDOR B</text><rect class="box" x="977" y="1182" width="22" height="8"/><text class="rb" x="988" y="1189">218</text>
<text class="rn" x="777" y="1229">UNIT 24</text><rect class="box" x="766" y="1233" width="22" height="8"/><text class="rb" x="777" y="1240">211</text><text class="ra" x="777" y="1257">99.46 sqm</text><text class="ra" x="777" y="1265">(1070.57 sqft)</text>
<text class="rn" x="958" y="1229">UNIT 23</text><rect class="box" x="947" y="1233" width="22" height="8"/><text class="rb" x="958" y="1240">209</text><text class="ra" x="958" y="1257">192.60 sqm</text><text class="ra" x="958" y="1265">(2073.12 sqft)</text>
<text class="rn" x="1132" y="1229">UNIT 22</text><rect class="box" x="1121" y="1233" width="22" height="8"/><text class="rb" x="1132" y="1240">208</text><text class="ra" x="1132" y="1257">98.54 sqm</text><text class="ra" x="1132" y="1265">(1060.67 sqft)</text>
<text class="rn" x="1297" y="1229">UNIT 21</text><rect class="box" x="1286" y="1233" width="22" height="8"/><text class="rb" x="1297" y="1240">207</text><text class="ra" x="1297" y="1257">164.17 sqm</text><text class="ra" x="1297" y="1265">(1767.11 sqft)</text>
<text class="rn" x="679" y="1049">STAIR 01</text><rect class="box" x="668" y="1053" width="22" height="8"/><text class="rb" x="679" y="1060">215</text>
<text class="rn" x="804" y="1046">STAIR 02</text><rect class="box" x="793" y="1050" width="22" height="8"/><text class="rb" x="804" y="1057">216</text>
<text class="rn" x="1183" y="1045">STAIR 03</text><rect class="box" x="1172" y="1049" width="22" height="8"/><text class="rb" x="1183" y="1056">217</text>
</g>

<!-- section markers bottom -->
<g text-anchor="middle" fill="#555">
<g transform="translate(186,1158)"><polygon points="-2,-13 12,0 -2,13" fill="#fff" stroke="#222" stroke-width="0.9"/><circle r="10" fill="#fff" stroke="#222" stroke-width="0.9"/><line x1="-10" y1="0" x2="10" y2="0" stroke="#222" stroke-width="0.7"/><text y="-1.5" font-size="9">03</text><text y="7" font-size="6">A301</text></g>
<g transform="translate(1463,1154)"><polygon points="2,-13 -12,0 2,13" fill="#fff" stroke="#222" stroke-width="0.9"/><circle r="10" fill="#fff" stroke="#222" stroke-width="0.9"/><line x1="-10" y1="0" x2="10" y2="0" stroke="#222" stroke-width="0.7"/><text y="-1.5" font-size="9">04</text><text y="7" font-size="6">A301</text></g>
<g transform="translate(833,1027)"><polygon points="-14,0 14,0 0,14" fill="#fff" stroke="#222" stroke-width="0.9"/><circle r="9" fill="#fff" stroke="#222" stroke-width="0.9"/><line x1="-14" y1="0" x2="14" y2="0" stroke="#222" stroke-width="0.7"/><text y="-1.5" font-size="9">02</text><text y="7" font-size="6">A301</text></g>
<g transform="translate(834,1349)"><polygon points="-14,0 14,0 0,-14" fill="#fff" stroke="#222" stroke-width="0.9"/><circle r="9" fill="#fff" stroke="#222" stroke-width="0.9"/><line x1="-14" y1="0" x2="14" y2="0" stroke="#222" stroke-width="0.7"/><text y="-1.5" font-size="9">01</text><text y="7" font-size="6">A301</text></g>
</g>
<line x1="903" y1="1030" x2="903" y2="1346" stroke="#111" stroke-width="2" stroke-dasharray="8 5"/>
<path d="M898,1034 l5,-5 l5,5 M898,1343 l5,5 l5,-5 M890,1044 l-4,-3 l4,-3 M916,1044 l4,-3 l-4,-3 M890,1337 l-4,-3 l4,-3 M916,1337 l4,-3 l-4,-3" fill="none" stroke="#111" stroke-width="1.3"/>
<text class="sec" transform="translate(893,1025) rotate(-90)">A205</text>
<text class="sec" transform="translate(932,1025) rotate(-90)">A206</text>
<text class="sec" transform="translate(893,1392) rotate(-90)">A205</text>
<text class="sec" transform="translate(932,1392) rotate(-90)">A206</text>
</svg>
</body></html>
